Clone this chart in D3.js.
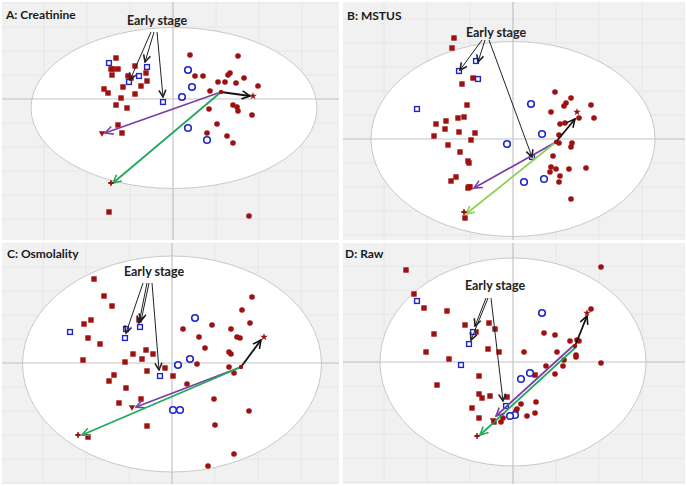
<!DOCTYPE html>
<html>
<head>
<meta charset="utf-8">
<script src="https://cdn.jsdelivr.net/npm/d3@7"></script>
<style>
body { margin: 0; background: #fff; }
text { font-family: Lato, "Open Sans", sans-serif; }
</style>
</head>
<body>
<script>
// scores: [t1, t2] per sample, one set of arrays per panel

// A: Creatinine
const aRedSquares = [[-5.7,4.1],[-6.2,3.0],[-6.0,3.0],[-5.5,3.0],[-6.1,2.4],[-3.8,3.3],[-2.7,2.6],[-4.5,2.3],[-4.2,2.1],[-2.6,1.8],[-5.0,1.2],[-3.2,1.3],[-6.9,1.0],[-6.5,0.6],[-3.8,0.5],[-5.2,0.1],[-5.7,-0.6],[-4.6,-0.9],[-5.5,-2.6],[-5.1,-3.4],[-6.4,-11.3]];
const aBlueSquares = [[-6.4,3.6],[-2.6,3.2],[-3.4,2.3],[-4.4,1.7],[-1.0,-0.3]];
const aBlueCircles = [[1.5,2.9],[1.9,1.2],[0.9,0.2],[1.5,-2.9],[3.4,-4.1]];
const aRedCircles = [[1.7,4.4],[6.5,4.3],[2.2,2.3],[3.0,2.3],[5.7,2.6],[5.5,2.4],[5.2,1.7],[4.5,1.7],[7.1,2.1],[6.3,1.6],[8.5,1.3],[3.7,0.8],[6.0,-0.6],[6.4,-0.8],[6.5,-1.2],[3.6,-1.0],[7.9,-1.6],[4.4,-2.5],[3.4,-3.4],[5.4,-3.7],[6.0,-4.4],[7.6,-11.7]];
const aVectors = [[4.8,0.7,7.7,0.3],[4.8,0.7,-6.8,-3.4],[4.8,0.7,-6.0,-8.4]];
const aEnds = [[8.0,0.3],[-7.1,-3.4],[-6.2,-8.4]];
const aEarlyLabel = [-1.6,7.4];
const aEarlyArrows = [[-2.2,6.7,-4.3,1.9],[-1.9,6.7,-2.8,3.7],[-1.6,6.7,-1.0,0.2]];

// B: MSTUS
const bRedSquares = [[-5.9,10.1],[-6.1,9.1],[-4.0,6.1],[-5.1,5.5],[-4.6,3.4],[-4.9,2.2],[-5.5,2.1],[-6.7,1.8],[-7.7,1.5],[-6.8,1.0],[-5.4,0.7],[-3.8,0.6],[-7.9,0.3],[-4.2,-0.1],[-6.5,-0.6],[-5.3,-1.3],[-4.5,-2.2],[-4.4,-2.4],[-5.7,-3.8],[-6.2,-4.2],[-4.3,-4.8],[-4.5,-4.9],[-4.8,-7.9]];
const bBlueSquares = [[-5.4,6.8],[-3.7,7.8],[-3.5,6.0],[-9.6,3.0],[1.9,-1.8]];
const bBlueCircles = [[1.8,3.5],[2.9,0.5],[-0.6,-0.5],[1.1,-4.3],[3.1,-4.0]];
const bRedCircles = [[4.2,4.7],[5.8,4.1],[5.3,3.6],[5.1,3.3],[7.8,3.4],[3.8,2.7],[6.6,2.1],[8.1,2.1],[5.2,1.6],[4.7,1.5],[4.6,0.4],[4.6,-0.4],[5.9,-0.4],[5.8,-0.8],[4.0,-1.7],[3.8,-2.8],[3.7,-3.3],[4.3,-3.0],[5.6,-3.0],[7.3,-2.9],[4.7,-3.7],[4.6,-4.3],[5.8,-6.0]];
const bVectors = [[4.3,-0.3,6.2,2.0],[4.3,-0.3,-3.9,-4.9],[4.3,-0.3,-4.7,-7.5]];
const bEnds = [[6.4,2.7],[-4.4,-4.7],[-4.9,-7.3]];
const bEarlyLabel = [-1.7,10.2];
const bEarlyArrows = [[-3.1,9.9,-5.3,6.9],[-2.8,9.9,-3.5,7.7],[-2.4,9.9,1.9,-1.8]];

// C: Osmolality
const cRedSquares = [[-7.8,8.4],[-6.8,6.7],[-6.0,5.7],[-8.1,4.3],[-8.8,3.9],[-3.3,4.3],[-8.4,2.5],[-7.2,1.9],[-2.6,1.3],[-3.9,0.9],[-1.9,0.9],[-3.0,0.4],[-8.9,0.3],[-4.7,0.1],[-2.5,-0.8],[-0.7,-0.5],[-5.8,-1.2],[-6.3,-1.8],[0.1,-1.3],[-4.6,-2.5],[-3.1,-3.6],[-5.3,-4.0],[-2.5,-6.3],[-8.4,-7.4]];
const cBlueSquares = [[-10.2,3.1],[-4.6,3.4],[-4.7,2.5],[-3.2,3.6],[-1.2,-1.3]];
const cBlueCircles = [[2.3,4.5],[1.8,0.4],[0.6,-0.2],[0.1,-4.7],[0.8,-4.7]];
const cRedCircles = [[8.0,6.6],[7.0,5.3],[7.8,4.0],[4.0,3.8],[1.1,3.4],[5.9,3.4],[6.5,2.6],[6.8,2.5],[2.7,2.6],[3.3,1.5],[5.7,1.1],[5.9,0.9],[2.5,-0.1],[5.7,-0.4],[6.2,-1.0],[1.5,-2.1],[4.2,-3.6],[7.7,-4.8],[4.3,-6.2],[6.2,-9.1],[3.6,-10.3]];
const cVectors = [[6.9,-0.4,8.9,2.3],[6.9,-0.4,-3.6,-4.4],[6.9,-0.4,-9.0,-7.2]];
const cEnds = [[9.2,2.6],[-4.0,-4.4],[-9.4,-7.2]];
const cEarlyLabel = [-1.8,8.7];
const cEarlyArrows = [[-2.9,8.0,-4.6,3.0],[-2.5,8.0,-3.3,4.0],[-2.3,8.0,-3.1,4.2],[-2.0,8.0,-1.3,-0.7]];

// D: Raw
const dRedSquares = [[-10.7,9.2],[-9.9,6.8],[-8.9,5.4],[-6.6,5.1],[-4.8,3.7],[-2.4,3.9],[-1.8,3.3],[-3.7,3.0],[-7.9,2.8],[-8.7,1.0],[-2.5,1.3],[-1.4,1.0],[-6.4,0.3],[-3.4,-1.4],[-7.6,-2.3],[-3.4,-3.2],[-3.1,-3.6],[-2.3,-3.4],[-0.6,-3.5],[-4.1,-4.6],[-3.4,-5.6],[2.2,-1.3],[-1.9,-6.0]];
const dBlueSquares = [[-9.6,6.1],[-4.0,3.0],[-4.4,1.8],[-5.2,-0.3],[-0.7,-4.4]];
const dBlueCircles = [[2.9,4.9],[1.7,-1.1],[0.8,-1.7],[0.2,-5.3],[-0.3,-5.4]];
const dRedCircles = [[8.8,9.5],[7.8,5.3],[3.1,2.9],[4.2,2.7],[5.7,2.1],[6.4,2.2],[6.6,2.1],[4.4,1.0],[6.3,0.7],[6.3,0.5],[1.1,1.0],[5.1,0.2],[5.0,-0.4],[3.3,-0.4],[8.8,-0.1],[4.2,-1.2],[2.3,-4.0],[0.8,-4.2],[0.4,-4.7],[0.3,-4.9],[1.4,-5.4],[2.2,-5.1],[-1.0,-5.6],[-1.2,-6.0]];
const dVectors = [[6.2,1.6,7.4,4.6],[6.1,1.7,-1.7,-5.4],[6.3,1.5,-3.3,-7.3]];
const dEnds = [[7.4,4.9],[-2.0,-5.8],[-3.6,-7.4]];
const dEarlyLabel = [-1.8,7.2];
const dEarlyArrows = [[-2.7,6.4,-3.8,3.6],[-2.5,6.4,-4.2,2.2],[-2.2,6.4,-1.0,-3.9]];

const panels = [
	{ title: "A: Creatinine", x: 2, y: 2, w: 337, h: 238, xd: [-17.1, 16.6], yd: [-14.1, 9.7],
		ell: [0.1, -0.9, 14.3, 8.05], titlePos: [4, 17], green: "#1faa5c",
		redSq: aRedSquares, blueSq: aBlueSquares, blueCi: aBlueCircles, redCi: aRedCircles,
		vec: aVectors, ends: aEnds, label: aEarlyLabel, early: aEarlyArrows },
	{ title: "B: MSTUS", x: 343, y: 2, w: 342, h: 238, xd: [-17.0, 17.2], yd: [-10.1, 13.7],
		ell: [0, 0, 14.2, 9.75], titlePos: [4, 18], green: "#8fd053",
		redSq: bRedSquares, blueSq: bBlueSquares, blueCi: bBlueCircles, redCi: bRedCircles,
		vec: bVectors, ends: bEnds, label: bEarlyLabel, early: bEarlyArrows },
	{ title: "C: Osmolality", x: 2, y: 243, w: 337, h: 241, xd: [-17.0, 16.7], yd: [-12.1, 12.0],
		ell: [0, -0.1, 14.95, 10.8], titlePos: [5, 15], green: "#1faa5c",
		redSq: cRedSquares, blueSq: cBlueSquares, blueCi: cBlueCircles, redCi: cRedCircles,
		vec: cVectors, ends: cEnds, label: cEarlyLabel, early: cEarlyArrows },
	{ title: "D: Raw", x: 343, y: 243, w: 342, h: 241, xd: [-17.0, 17.2], yd: [-12.2, 11.9],
		ell: [0, 0, 13.3, 10.4], titlePos: [2, 15], green: "#1faa5c",
		redSq: dRedSquares, blueSq: dBlueSquares, blueCi: dBlueCircles, redCi: dRedCircles,
		vec: dVectors, ends: dEnds, label: dEarlyLabel, early: dEarlyArrows }
];

const RED = "#a01010";
const BLUE = "#1f25c8";
const PURPLE = "#7a3fa6";

const svg = d3.select("body").append("svg")
	.attr("width", 687)
	.attr("height", 486);

const defs = svg.append("defs");

function arrowMarker(id, color, len) {
	defs.append("marker")
		.attr("id", id)
		.attr("viewBox", "-10 -5 11 10")
		.attr("refX", 0)
		.attr("refY", 0)
		.attr("markerWidth", 11)
		.attr("markerHeight", 10)
		.attr("markerUnits", "userSpaceOnUse")
		.attr("orient", "auto")
		.append("path")
		.attr("d", `M${-len},${-len * 0.5}L0,0L${-len},${len * 0.5}`)
		.attr("fill", "none")
		.attr("stroke", color)
		.attr("stroke-width", 1.6);
}

arrowMarker("head-black", "#111", 8);
arrowMarker("head-thin", "#222", 7);
arrowMarker("head-purple", PURPLE, 8);
arrowMarker("head-green", "#1faa5c", 8);
arrowMarker("head-lightgreen", "#8fd053", 8);

panels.forEach((p, i) => {
	defs.append("clipPath").attr("id", "clip" + i)
		.append("rect").attr("width", p.w).attr("height", p.h);

	const g = svg.append("g").attr("transform", `translate(${p.x},${p.y})`);
	const body = g.append("g").attr("clip-path", `url(#clip${i})`);

	const x = d3.scaleLinear().domain(p.xd).range([0, p.w]);
	const y = d3.scaleLinear().domain(p.yd).range([p.h, 0]);

	body.append("rect")
		.attr("width", p.w)
		.attr("height", p.h)
		.attr("fill", "#f1f1f1");

	// faint grid
	const gx = d3.range(Math.ceil(p.xd[0] / 4.3), Math.floor(p.xd[1] / 4.3) + 1).map(k => k * 4.3);
	const gy = d3.range(Math.ceil(p.yd[0] / 2.4), Math.floor(p.yd[1] / 2.4) + 1).map(k => k * 2.4);
	body.selectAll("line.gx").data(gx).enter().append("line")
		.attr("x1", d => x(d)).attr("x2", d => x(d))
		.attr("y1", 0).attr("y2", p.h)
		.attr("stroke", "#e6e6e6").attr("stroke-width", 1);
	body.selectAll("line.gy").data(gy).enter().append("line")
		.attr("y1", d => y(d)).attr("y2", d => y(d))
		.attr("x1", 0).attr("x2", p.w)
		.attr("stroke", "#e6e6e6").attr("stroke-width", 1);

	// confidence ellipse
	body.append("ellipse")
		.attr("cx", x(p.ell[0]))
		.attr("cy", y(p.ell[1]))
		.attr("rx", x(p.ell[2]) - x(0))
		.attr("ry", y(0) - y(p.ell[3]))
		.attr("fill", "#fff")
		.attr("stroke", "#c9c9c9")
		.attr("stroke-width", 1);

	// crosshair
	body.append("line")
		.attr("x1", x(0)).attr("x2", x(0)).attr("y1", 0).attr("y2", p.h)
		.attr("stroke", "#c4c4c4").attr("stroke-width", 1.2);
	body.append("line")
		.attr("y1", y(0)).attr("y2", y(0)).attr("x1", 0).attr("x2", p.w)
		.attr("stroke", "#c4c4c4").attr("stroke-width", 1.2);

	// samples
	body.selectAll("rect.rsq").data(p.redSq).enter().append("rect")
		.attr("x", d => x(d[0]) - 2.7).attr("y", d => y(d[1]) - 2.7)
		.attr("width", 5.4).attr("height", 5.4)
		.attr("fill", RED);
	body.selectAll("circle.rci").data(p.redCi).enter().append("circle")
		.attr("cx", d => x(d[0])).attr("cy", d => y(d[1]))
		.attr("r", 2.8)
		.attr("fill", RED);
	body.selectAll("rect.bsq").data(p.blueSq).enter().append("rect")
		.attr("x", d => x(d[0]) - 2.4).attr("y", d => y(d[1]) - 2.4)
		.attr("width", 4.8).attr("height", 4.8)
		.attr("fill", "#fff")
		.attr("stroke", BLUE).attr("stroke-width", 1.4);
	body.selectAll("circle.bci").data(p.blueCi).enter().append("circle")
		.attr("cx", d => x(d[0])).attr("cy", d => y(d[1]))
		.attr("r", 3.3)
		.attr("fill", "#fff")
		.attr("stroke", BLUE).attr("stroke-width", 1.6);

	// shift vectors: black, purple, green
	const vecStyle = [
		["#111", "head-black"],
		[PURPLE, "head-purple"],
		[p.green, p.green === "#8fd053" ? "head-lightgreen" : "head-green"]
	];
	const order = i === 3 ? [0, 2, 1] : [0, 1, 2];
	body.selectAll("line.vec").data(order.map(k => ({ v: p.vec[k], k }))).enter().append("line")
		.attr("x1", d => x(d.v[0])).attr("y1", d => y(d.v[1]))
		.attr("x2", d => x(d.v[2])).attr("y2", d => y(d.v[3]))
		.attr("stroke", d => vecStyle[d.k][0])
		.attr("stroke-width", 1.8)
		.attr("marker-end", d => `url(#${vecStyle[d.k][1]})`);

	body.append("circle")
		.attr("cx", x(p.vec[0][0])).attr("cy", y(p.vec[0][1]))
		.attr("r", 2.2).attr("fill", RED);

	const endTypes = [d3.symbolStar, d3.symbolTriangle, d3.symbolCross];
	body.selectAll("path.end").data(p.ends).enter().append("path")
		.attr("transform", (d, k) => `translate(${x(d[0])},${y(d[1])})` + (k === 1 ? " rotate(180)" : ""))
		.attr("d", (d, k) => d3.symbol().type(endTypes[k]).size(k === 2 ? 16 : 18)())
		.attr("fill", RED);

	// "Early stage" annotation
	body.selectAll("line.early").data(p.early).enter().append("line")
		.attr("x1", d => x(d[0])).attr("y1", d => y(d[1]))
		.attr("x2", d => x(d[2])).attr("y2", d => y(d[3]))
		.attr("stroke", "#222")
		.attr("stroke-width", 1)
		.attr("marker-end", "url(#head-thin)");

	body.append("text")
		.attr("x", x(p.label[0]))
		.attr("y", y(p.label[1]))
		.attr("text-anchor", "middle")
		.attr("font-size", 12.5)
		.attr("font-weight", 700)
		.attr("fill", "#222")
		.text("Early stage");

	g.append("text")
		.attr("x", p.titlePos[0])
		.attr("y", p.titlePos[1])
		.attr("font-size", 12)
		.attr("font-weight", 700)
		.attr("fill", "#1a1a1a")
		.text(p.title);
});
</script>
</body>
</html>
